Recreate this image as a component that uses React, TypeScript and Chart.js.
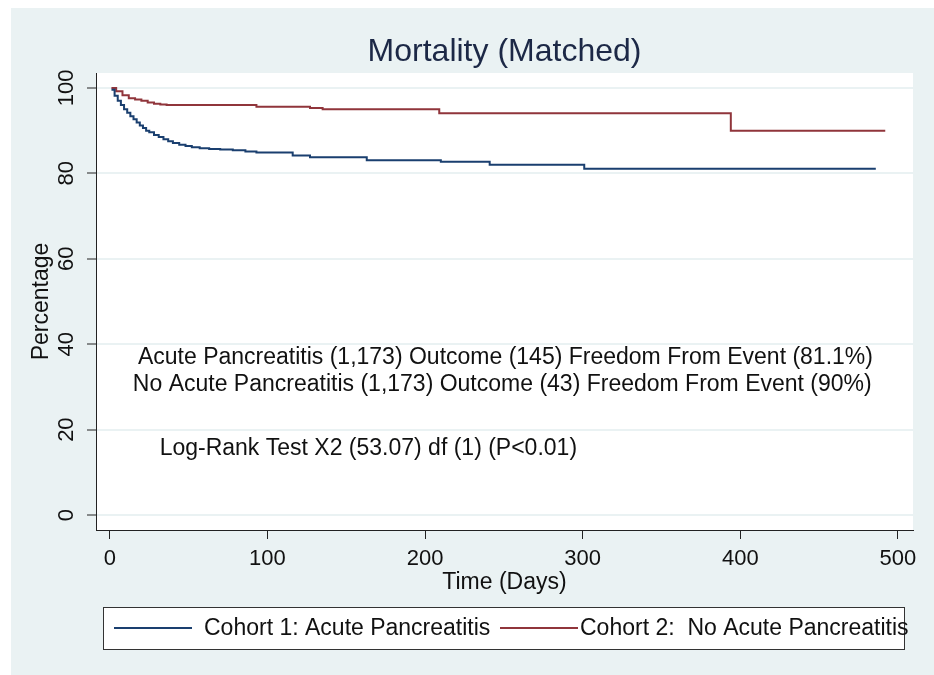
import { useEffect, useRef } from "react";
import { Chart, registerables } from "chart.js";

Chart.register(...registerables);

// ---------- data ----------
const TITLE = "Mortality (Matched)";
const X_TITLE = "Time (Days)";
const Y_TITLE = "Percentage";
const X_TICKS = [0, 100, 200, 300, 400, 500];
const Y_TICKS = [0, 20, 40, 60, 80, 100];
const SERIES_LABELS = ["Cohort 1: Acute Pancreatitis", "Cohort 2:  No Acute Pancreatitis"];

const AP_DAYS = [1, 3, 5, 7, 9, 11, 13, 15, 17, 19, 21, 23, 25, 28, 31, 34, 37, 40, 44, 48, 52, 57, 63, 70, 78, 86, 93, 116, 127, 163, 210, 241, 301, 486];
const AP_PCT = [99.6, 98.2, 97.0, 96.0, 95.0, 94.2, 93.4, 92.7, 91.9, 91.2, 90.6, 90.0, 89.6, 89.0, 88.5, 88.0, 87.5, 87.1, 86.7, 86.4, 86.1, 85.9, 85.7, 85.6, 85.4, 85.1, 84.9, 84.2, 83.8, 83.1, 82.7, 82.0, 81.1, 81.1];

const NOAP_DAYS = [1, 4, 8, 12, 16, 20, 24, 28, 32, 36, 93, 127, 135, 209, 394, 492];
const NOAP_PCT = [100, 99.2, 98.3, 97.6, 97.3, 97.0, 96.6, 96.3, 96.1, 96.0, 95.6, 95.3, 95.0, 94.1, 90.0, 90.0];

const NOTE_LINES = [
  "Acute Pancreatitis (1,173) Outcome (145) Freedom From Event (81.1%)",
  "No Acute Pancreatitis (1,173) Outcome (43) Freedom From Event (90%)",
  "Log-Rank Test X2 (53.07) df (1) (P<0.01)",
];

// ---------- styling ----------
const FONT = "'Liberation Sans', Arial, Helvetica, sans-serif";
const BG = "#eaf2f3";
const BLUE = "#1a3f6f";
const RED = "#90353b";

const toPoints = (xs: number[], ys: number[]) => xs.map((x, i) => ({ x, y: ys[i] }));

const backgroundPlugin = {
  id: "stataBackground",
  beforeDraw(chart: any) {
    const { ctx, width, height, chartArea } = chart;
    ctx.save();
    ctx.fillStyle = "#ffffff";
    ctx.fillRect(0, 0, width, height);
    ctx.fillStyle = BG;
    ctx.fillRect(11, 8, width - 11, height - 8);
    ctx.fillStyle = "#ffffff";
    ctx.fillRect(chartArea.left, chartArea.top, chartArea.right - chartArea.left, chartArea.bottom - chartArea.top);
    ctx.restore();
  },
};

const textPlugin = {
  id: "stataText",
  afterDraw(chart: any, _args: any, opts: any) {
    const { ctx, chartArea, scales } = chart;
    ctx.save();
    // title
    ctx.fillStyle = "#1c2846";
    ctx.font = `32px ${FONT}`;
    ctx.textAlign = "center";
    ctx.textBaseline = "middle";
    ctx.fillText(TITLE, (chartArea.left + chartArea.right) / 2, 52);

    // annotations (placed in data coordinates)
    ctx.fillStyle = "#111111";
    ctx.font = `23px ${FONT}`;
    (opts.notes || []).forEach((n: any, i: number) => {
      const px = scales.x.getPixelForValue(n.x);
      const py = scales.y.getPixelForValue(n.y);
      ctx.fillText(NOTE_LINES[i], px, py);
    });

    // legend
    const box = opts.legendBox;
    ctx.fillStyle = "#ffffff";
    ctx.fillRect(box.x, box.y, box.w, box.h);
    ctx.strokeStyle = "#333333";
    ctx.lineWidth = 1;
    ctx.strokeRect(box.x + 0.5, box.y + 0.5, box.w, box.h);
    const cy = box.y + box.h / 2;
    chart.data.datasets.forEach((ds: any, i: number) => {
      const it = opts.legendItems[i];
      ctx.strokeStyle = ds.borderColor;
      ctx.lineWidth = 2;
      ctx.beginPath();
      ctx.moveTo(it.x1, cy);
      ctx.lineTo(it.x2, cy);
      ctx.stroke();
      ctx.fillStyle = "#111111";
      ctx.font = `23px ${FONT}`;
      ctx.textAlign = "left";
      ctx.textBaseline = "middle";
      ctx.fillText(ds.label, it.tx, cy + 1);
    });
    ctx.restore();
  },
};

export default function App() {
  const ref = useRef<HTMLCanvasElement>(null);

  useEffect(() => {
    const canvas = ref.current;
    if (!canvas) return;
    const chart = new Chart(canvas, {
      type: "line",
      data: {
        datasets: [
          {
            label: SERIES_LABELS[0],
            data: toPoints(AP_DAYS, AP_PCT),
            borderColor: BLUE,
            borderWidth: 2,
            pointRadius: 0,
            stepped: true,
            fill: false,
          },
          {
            label: SERIES_LABELS[1],
            data: toPoints(NOAP_DAYS, NOAP_PCT),
            borderColor: RED,
            borderWidth: 2,
            pointRadius: 0,
            stepped: true,
            fill: false,
          },
        ],
      },
      options: {
        animation: false,
        responsive: false,
        devicePixelRatio: 1,
        layout: { padding: { left: 0, top: 73, right: 21, bottom: 79 } },
        plugins: {
          legend: { display: false },
          tooltip: { enabled: false },
          title: { display: false },
          stataText: {
            notes: [
              { x: 251, y: 36.8 },
              { x: 249, y: 30.5 },
              { x: 164, y: 15.5 },
            ],
            legendBox: { x: 103, y: 607, w: 801, h: 42 },
            legendItems: [
              { x1: 114, x2: 192, tx: 204 },
              { x1: 500, x2: 578, tx: 580 },
            ],
          },
        } as any,
        scales: {
          x: {
            type: "linear",
            min: -8.8,
            max: 509.6,
            afterBuildTicks: (s: any) => {
              s.ticks = X_TICKS.map((v) => ({ value: v }));
            },
            afterFit: (s: any) => {
              s.height = 66;
            },
            grid: {
              drawOnChartArea: false,
              tickLength: 9,
              tickColor: "#222222",
              tickWidth: 1,
            },
            border: { display: true, color: "#222222", width: 1 },
            ticks: {
              color: "#111111",
              font: { family: FONT, size: 22 },
              padding: 7,
              maxRotation: 0,
              autoSkip: false,
              callback: (v: any) => String(v),
            },
            title: {
              display: true,
              text: X_TITLE,
              color: "#111111",
              font: { family: FONT, size: 23 },
              padding: { top: 0, bottom: 0 },
            },
          },
          y: {
            type: "linear",
            min: -3.5,
            max: 103.5,
            afterBuildTicks: (s: any) => {
              s.ticks = Y_TICKS.map((v) => ({ value: v }));
            },
            afterFit: (s: any) => {
              s.width = 96;
            },
            grid: {
              color: BG,
              lineWidth: 2,
              tickLength: 9,
              tickColor: "#222222",
              tickWidth: 1,
            },
            border: { display: true, color: "#222222", width: 1 },
            ticks: {
              color: "#111111",
              font: { family: FONT, size: 22 },
              padding: 2,
              minRotation: 90,
              maxRotation: 90,
              crossAlign: "center",
              autoSkip: false,
              callback: (v: any) => String(v),
            },
            title: {
              display: true,
              text: Y_TITLE,
              color: "#111111",
              font: { family: FONT, size: 23 },
              padding: { top: 28, bottom: 0 },
            },
          },
        },
      },
      plugins: [backgroundPlugin, textPlugin],
    } as any);
    return () => chart.destroy();
  }, []);

  return (
    <div style={{ position: "fixed", left: 0, top: 0, width: 934, height: 675 }}>
      <canvas ref={ref} width={934} height={675} style={{ display: "block", width: 934, height: 675 }} />
    </div>
  );
}
